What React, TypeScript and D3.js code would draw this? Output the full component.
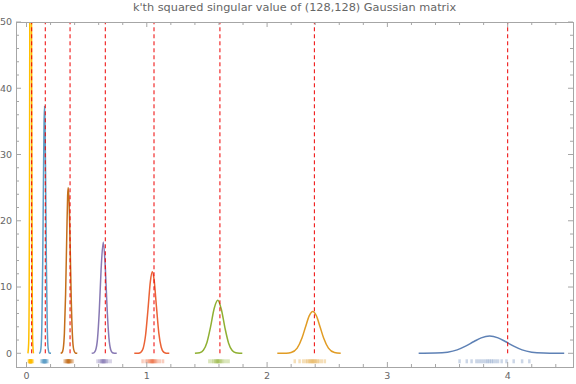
import React, { useEffect, useRef } from 'react';
import * as d3 from 'd3';

const title = "k'th squared singular value of (128,128) Gaussian matrix";

// colours for k = 1..8 (largest first)
const seriesColors = ['#5E81B5', '#E19C24', '#8FB032', '#EB6235', '#8778B3', '#C56E1A', '#5D9EC7', '#FFBF00'];

// density curves
const densX1 = [3.26, 3.40, 3.50, 3.58, 3.65, 3.72, 3.78, 3.85, 3.92, 3.98, 4.05, 4.12, 4.20, 4.30, 4.40, 4.47];
const densY1 = [0, 0.03, 0.17, 0.51, 1.07, 1.78, 2.33, 2.6, 2.33, 1.78, 1.07, 0.51, 0.17, 0.03, 0, 0];

const densX2 = [2.085, 2.16, 2.20, 2.25, 2.29, 2.32, 2.35, 2.38, 2.41, 2.44, 2.47, 2.51, 2.56, 2.612];
const densY2 = [0, 0.02, 0.11, 0.77, 2.3, 4.01, 5.64, 6.3, 5.64, 4.01, 2.3, 0.77, 0.11, 0.01];

const densX3 = [1.40, 1.44, 1.47, 1.50, 1.53, 1.56, 1.59, 1.62, 1.65, 1.68, 1.71, 1.74, 1.77, 1.794];
const densY3 = [0.01, 0.09, 0.46, 1.64, 3.98, 6.76, 8.0, 6.6, 3.8, 1.53, 0.42, 0.08, 0.01, 0];

const densX4 = [0.896, 0.93, 0.95, 0.97, 0.99, 1.01, 1.03, 1.046, 1.06, 1.08, 1.10, 1.12, 1.14, 1.16, 1.187];
const densY4 = [0, 0.02, 0.15, 0.77, 2.76, 6.64, 10.9, 12.3, 11.2, 7.08, 3.05, 0.91, 0.18, 0.02, 0];

const densX5 = [0.542, 0.56, 0.575, 0.59, 0.605, 0.62, 0.638, 0.655, 0.67, 0.685, 0.70, 0.715, 0.73, 0.75];
const densY5 = [0, 0.07, 0.49, 2.13, 6.38, 12.6, 16.8, 13.0, 6.75, 2.37, 0.54, 0.08, 0.01, 0];

const densX6 = [0.284, 0.295, 0.305, 0.315, 0.325, 0.335, 0.342, 0.346, 0.350, 0.354, 0.362, 0.372, 0.382, 0.392, 0.405, 0.422];
const densY6 = [0, 0.1, 0.68, 3.0, 8.9, 18.0, 23.8, 25.0, 24.2, 23.0, 17.0, 8.1, 2.6, 0.58, 0.05, 0];

const densX7 = [0.104, 0.112, 0.12, 0.128, 0.135, 0.141, 0.146, 0.15, 0.154, 0.159, 0.165, 0.172, 0.18, 0.19, 0.204];
const densY7 = [0, 0.07, 0.75, 4.5, 14.0, 26.2, 34.8, 37.3, 34.8, 26.2, 14.0, 4.5, 0.75, 0.03, 0];

const densX8 = [0.012, 0.018, 0.022, 0.025, 0.027, 0.029, 0.035, 0.040, 0.042, 0.045, 0.048, 0.052, 0.058];
const densY8 = [0, 1.5, 8, 25, 48, 70, 82, 70, 48, 25, 8, 1.5, 0];

// sample rugs under each curve
const rug1 = [3.60, 3.66, 3.70, 3.74, 3.76, 3.78, 3.80, 3.82, 3.835, 3.85, 3.865, 3.88, 3.90, 3.92, 3.95, 3.99, 4.05, 4.12, 4.18];
const rug2 = [2.23, 2.27, 2.30, 2.32, 2.335, 2.347, 2.357, 2.366, 2.374, 2.382, 2.39, 2.399, 2.409, 2.42, 2.435, 2.455, 2.48];
const rug3 = [1.52, 1.54, 1.555, 1.565, 1.573, 1.58, 1.586, 1.59, 1.595, 1.601, 1.608, 1.616, 1.626, 1.64, 1.66, 1.68];
const rug4 = [0.965, 0.99, 1.005, 1.015, 1.024, 1.031, 1.037, 1.042, 1.046, 1.05, 1.055, 1.061, 1.068, 1.077, 1.09, 1.11, 1.135];
const rug5 = [0.59, 0.605, 0.615, 0.622, 0.627, 0.631, 0.635, 0.638, 0.641, 0.645, 0.649, 0.654, 0.66, 0.668, 0.68, 0.70];
const rug6 = [0.316, 0.325, 0.332, 0.337, 0.34, 0.343, 0.346, 0.348, 0.35, 0.352, 0.355, 0.358, 0.362, 0.367, 0.374, 0.385];
const rug7 = [0.122, 0.13, 0.135, 0.139, 0.142, 0.144, 0.146, 0.148, 0.15, 0.151, 0.153, 0.155, 0.157, 0.16, 0.163, 0.168, 0.176];
const rug8 = [0.018, 0.022, 0.025, 0.027, 0.029, 0.03, 0.031, 0.032, 0.033, 0.034, 0.035, 0.036, 0.037, 0.039, 0.041, 0.044, 0.048, 0.053];

// predicted positions (dashed lines)
const predicted = [4.0, 2.393, 1.608, 1.06, 0.655, 0.362, 0.156, 0.043];

const xTicks = [0, 1, 2, 3, 4];
const yTicks = [0, 10, 20, 30, 40, 50];

function App() {
  const ref = useRef<SVGSVGElement>(null);

  useEffect(() => {
    const svg = d3.select(ref.current);
    svg.selectAll('*').remove();

    const left = 16, right = 573, top = 22, bottom = 367;
    const x = d3.scaleLinear().domain([-0.0873, 4.543]).range([left, right]);
    const y = d3.scaleLinear().domain([-2.07, 50]).range([bottom, top]);
    const frameColor = '#a6a6a6';
    const labelColor = '#666';

    svg.append('defs').append('clipPath').attr('id', 'plotclip')
      .append('rect')
      .attr('x', left).attr('y', top)
      .attr('width', right - left).attr('height', bottom - top);

    const densities = [
      [densX1, densY1], [densX2, densY2], [densX3, densY3], [densX4, densY4],
      [densX5, densY5], [densX6, densY6], [densX7, densY7], [densX8, densY8]
    ].map(([xs, ys], i) => ({ color: seriesColors[i], pts: xs.map((v, j) => [v, ys[j]]) }));
    const rugs = [rug1, rug2, rug3, rug4, rug5, rug6, rug7, rug8];

    const plot = svg.append('g').attr('clip-path', 'url(#plotclip)');

    // rugs
    const y0 = y(0);
    rugs.forEach((r, i) => {
      plot.append('g').selectAll('line').data(r).join('line')
        .attr('x1', d => x(d)).attr('x2', d => x(d))
        .attr('y1', y0 + 6).attr('y2', y0 + 10)
        .attr('stroke', seriesColors[i])
        .attr('stroke-width', 2.5)
        .attr('stroke-opacity', 0.32);
    });

    const line = d3.line<number[]>()
      .x(d => x(d[0]))
      .y(d => y(d[1]))
      .curve(d3.curveMonotoneX);

    plot.selectAll('.dens').data(densities).join('path')
      .attr('class', 'dens')
      .attr('d', d => line(d.pts))
      .attr('fill', 'none')
      .attr('stroke', d => d.color)
      .attr('stroke-width', 1.5)
      .attr('stroke-linejoin', 'round');

    plot.selectAll('.pred').data(predicted).join('line')
      .attr('class', 'pred')
      .attr('x1', d => x(d)).attr('x2', d => x(d))
      .attr('y1', y(0)).attr('y2', y(50))
      .attr('stroke', '#ee0000')
      .attr('stroke-width', 1)
      .attr('stroke-dasharray', '4,3');

    // frame
    svg.append('rect')
      .attr('x', left).attr('y', top)
      .attr('width', right - left).attr('height', bottom - top)
      .attr('fill', 'none')
      .attr('stroke', frameColor)
      .attr('stroke-width', 1)
      .attr('shape-rendering', 'crispEdges');

    const xMinor = d3.range(0, 23).map(i => i * 0.2).filter(v => Math.abs(v - Math.round(v)) > 1e-6);
    const yMinor = d3.range(1, 25).map(i => i * 2).filter(v => v % 10 !== 0);

    const ticks = svg.append('g').attr('stroke', frameColor).attr('stroke-width', 1);
    const xt = [...xTicks.map(v => ({ v, len: 5 })), ...xMinor.map(v => ({ v, len: 3 }))];
    const yt = [...yTicks.map(v => ({ v, len: 5 })), ...yMinor.map(v => ({ v, len: 3 }))];

    ticks.selectAll('.xb').data(xt).join('line').attr('class', 'xb')
      .attr('x1', d => x(d.v)).attr('x2', d => x(d.v))
      .attr('y1', bottom).attr('y2', d => bottom - d.len);
    ticks.selectAll('.xt').data(xt).join('line').attr('class', 'xt')
      .attr('x1', d => x(d.v)).attr('x2', d => x(d.v))
      .attr('y1', top).attr('y2', d => top + d.len);
    ticks.selectAll('.yl').data(yt).join('line').attr('class', 'yl')
      .attr('y1', d => y(d.v)).attr('y2', d => y(d.v))
      .attr('x1', left).attr('x2', d => left + d.len);
    ticks.selectAll('.yr').data(yt).join('line').attr('class', 'yr')
      .attr('y1', d => y(d.v)).attr('y2', d => y(d.v))
      .attr('x1', right).attr('x2', d => right - d.len);

    svg.append('g').selectAll('text').data(xTicks).join('text')
      .attr('x', d => x(d))
      .attr('y', bottom + 11.5)
      .attr('text-anchor', 'middle')
      .attr('font-family', 'DejaVu Sans')
      .attr('font-size', 9.5)
      .attr('fill', labelColor)
      .text(d => d);

    svg.append('g').selectAll('text').data(yTicks).join('text')
      .attr('x', left - 4)
      .attr('y', d => y(d))
      .attr('dy', '0.35em')
      .attr('text-anchor', 'end')
      .attr('font-family', 'DejaVu Sans')
      .attr('font-size', 9.5)
      .attr('fill', labelColor)
      .text(d => d);

    svg.append('text')
      .attr('x', 294.5)
      .attr('y', 11)
      .attr('text-anchor', 'middle')
      .attr('font-family', 'DejaVu Sans')
      .attr('font-size', 11.3)
      .attr('fill', labelColor)
      .text(title);
  }, []);

  return (
    <svg ref={ref} width={576} height={384}
      style={{ position: 'absolute', left: 0, top: 0, background: '#fff' }} />
  );
}

export default App;
